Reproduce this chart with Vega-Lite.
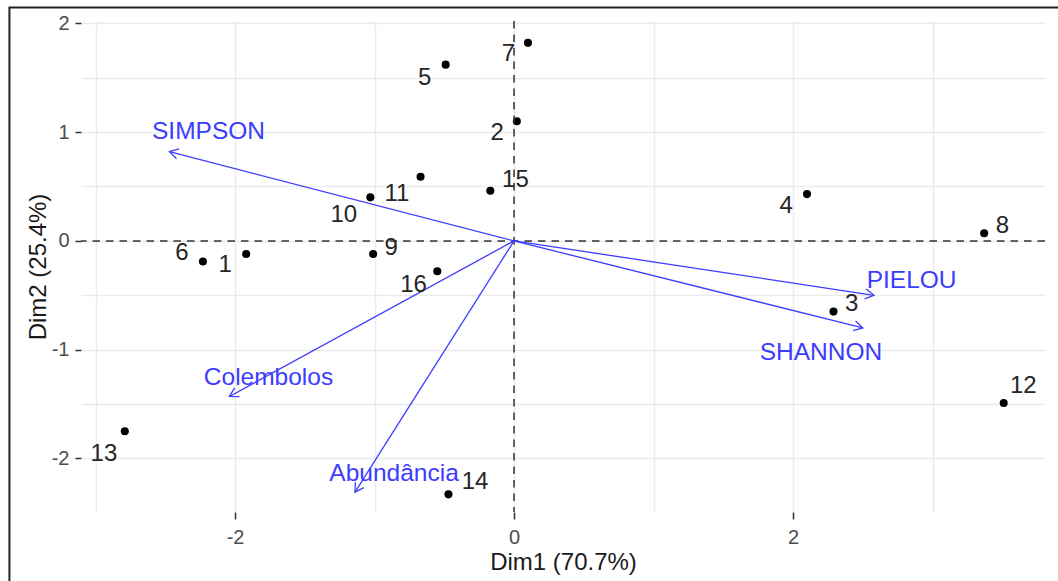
{
  "$schema": "https://vega.github.io/schema/vega-lite/v6.json",
  "width": 964,
  "height": 491,
  "autosize": {"type": "none"},
  "padding": {"left": 81, "top": 21, "right": 13, "bottom": 69},
  "background": "white",
  "config": {
    "font": "Liberation Sans",
    "view": {"stroke": null},
    "axis": {
      "domain": false,
      "grid": true,
      "gridColor": "#ebebeb",
      "gridWidth": 1.5,
      "tickWidth": 1.5,
      "labelFontSize": 20,
      "labelColor": "#4d4d4d",
      "titleFontSize": 24,
      "titleFontWeight": "normal",
      "titleColor": "#1a1a1a"
    }
  },
  "datasets": {
    "ind": [
      {"id": "1", "x": -1.92, "y": -0.12, "lx": -2.07, "ly": -0.22},
      {"id": "2", "x": 0.02, "y": 1.10, "lx": -0.12, "ly": 0.99},
      {"id": "3", "x": 2.29, "y": -0.65, "lx": 2.42, "ly": -0.58},
      {"id": "4", "x": 2.10, "y": 0.43, "lx": 1.95, "ly": 0.32},
      {"id": "5", "x": -0.49, "y": 1.62, "lx": -0.64, "ly": 1.50},
      {"id": "6", "x": -2.23, "y": -0.19, "lx": -2.38, "ly": -0.11},
      {"id": "7", "x": 0.10, "y": 1.82, "lx": -0.04, "ly": 1.72},
      {"id": "8", "x": 3.37, "y": 0.07, "lx": 3.50, "ly": 0.14},
      {"id": "9", "x": -1.01, "y": -0.12, "lx": -0.88, "ly": -0.07},
      {"id": "10", "x": -1.03, "y": 0.40, "lx": -1.22, "ly": 0.24},
      {"id": "11", "x": -0.67, "y": 0.59, "lx": -0.84, "ly": 0.43},
      {"id": "12", "x": 3.51, "y": -1.49, "lx": 3.65, "ly": -1.33},
      {"id": "13", "x": -2.79, "y": -1.75, "lx": -2.94, "ly": -1.96},
      {"id": "14", "x": -0.47, "y": -2.33, "lx": -0.28, "ly": -2.22},
      {"id": "15", "x": -0.17, "y": 0.46, "lx": 0.01, "ly": 0.56},
      {"id": "16", "x": -0.55, "y": -0.28, "lx": -0.72, "ly": -0.41}
    ],
    "var": [
      {"name": "SIMPSON", "x0": 0, "y0": 0, "x": -2.47, "y": 0.82, "lx": -2.19, "ly": 1.00},
      {"name": "PIELOU", "x0": 0, "y0": 0, "x": 2.58, "y": -0.50, "lx": 2.85, "ly": -0.37},
      {"name": "SHANNON", "x0": 0, "y0": 0, "x": 2.50, "y": -0.80, "lx": 2.20, "ly": -1.03},
      {"name": "Colembolos", "x0": 0, "y0": 0, "x": -2.04, "y": -1.43, "lx": -1.76, "ly": -1.26},
      {"name": "Abundância", "x0": 0, "y0": 0, "x": -1.14, "y": -2.31, "lx": -0.86, "ly": -2.14}
    ]
  },
  "layer": [
    {
      "data": {"name": "ind"},
      "mark": {"type": "point", "filled": true, "color": "black", "size": 65, "opacity": 1},
      "encoding": {
        "x": {
          "field": "x", "type": "quantitative",
          "scale": {"domain": [-3.104, 3.806], "nice": false, "zero": false},
          "axis": {
            "title": "Dim1 (70.7%)",
            "values": [-3, -2, -1, 0, 1, 2, 3],
            "labelExpr": "datum.value % 2 === 0 ? '' + datum.value : ''",
            "tickColor": {"condition": {"test": "datum.value % 2 !== 0", "value": "transparent"}, "value": "#333333"},
            "tickSize": 7,
            "labelFontSize": 20,
            "labelPadding": 8,
            "titlePadding": 3
          }
        },
        "y": {
          "field": "y", "type": "quantitative",
          "scale": {"domain": [-2.492, 2.021], "nice": false, "zero": false},
          "axis": {
            "title": "Dim2 (25.4%)",
            "values": [-2, -1.5, -1, -0.5, 0, 0.5, 1, 1.5, 2],
            "labelExpr": "datum.value % 1 === 0 ? '' + datum.value : ''",
            "tickColor": {"condition": {"test": "datum.value % 1 !== 0", "value": "transparent"}, "value": "#333333"},
            "tickSize": 6,
            "labelFontSize": 20,
            "labelPadding": 6,
            "titlePadding": 1
          }
        }
      }
    },
    {
      "data": {"values": [{}]},
      "mark": {"type": "rule", "color": "#333333", "strokeWidth": 1.5, "strokeDash": [7.5, 6]},
      "encoding": {
        "y": {"datum": 0, "type": "quantitative"}
      }
    },
    {
      "data": {"values": [{}]},
      "mark": {"type": "rule", "color": "#333333", "strokeWidth": 1.5, "strokeDash": [7.5, 6]},
      "encoding": {
        "x": {"datum": 0, "type": "quantitative"}
      }
    },
    {
      "data": {"name": "var"},
      "mark": {"type": "rule", "color": "#3c3cff", "strokeWidth": 1.3},
      "encoding": {
        "x": {"field": "x0", "type": "quantitative"},
        "y": {"field": "y0", "type": "quantitative"},
        "x2": {"field": "x"},
        "y2": {"field": "y"}
      }
    },
    {
      "data": {"name": "var"},
      "transform": [{"calculate": "atan2(datum.x * 139.5, datum.y * 108.8) * 180 / PI", "as": "ang"}],
      "mark": {"type": "point", "shape": "M-0.5,0.866L0,0L0.5,0.866", "filled": false, "stroke": "#3c3cff", "strokeWidth": 1.3, "size": 400, "opacity": 1},
      "encoding": {
        "x": {"field": "x", "type": "quantitative"},
        "y": {"field": "y", "type": "quantitative"},
        "angle": {"field": "ang", "type": "quantitative", "scale": null}
      }
    },
    {
      "data": {"name": "var"},
      "mark": {"type": "text", "fontSize": 24.5, "color": "#3c3cff", "align": "center", "baseline": "middle"},
      "encoding": {
        "x": {"field": "lx", "type": "quantitative"},
        "y": {"field": "ly", "type": "quantitative"},
        "text": {"field": "name", "type": "nominal"}
      }
    },
    {
      "data": {"name": "ind"},
      "mark": {"type": "text", "fontSize": 24, "color": "#262626", "align": "center", "baseline": "middle"},
      "encoding": {
        "x": {"field": "lx", "type": "quantitative"},
        "y": {"field": "ly", "type": "quantitative"},
        "text": {"field": "id", "type": "nominal"}
      }
    },
    {
      "data": {"values": [{}]},
      "mark": {"type": "rect", "fill": "transparent", "stroke": "#222222", "strokeWidth": 2},
      "encoding": {
        "x": {"datum": -3.617, "type": "quantitative"},
        "x2": {"datum": 4.0},
        "y": {"datum": 2.145, "type": "quantitative"},
        "y2": {"datum": -3.3}
      }
    }
  ]
}
